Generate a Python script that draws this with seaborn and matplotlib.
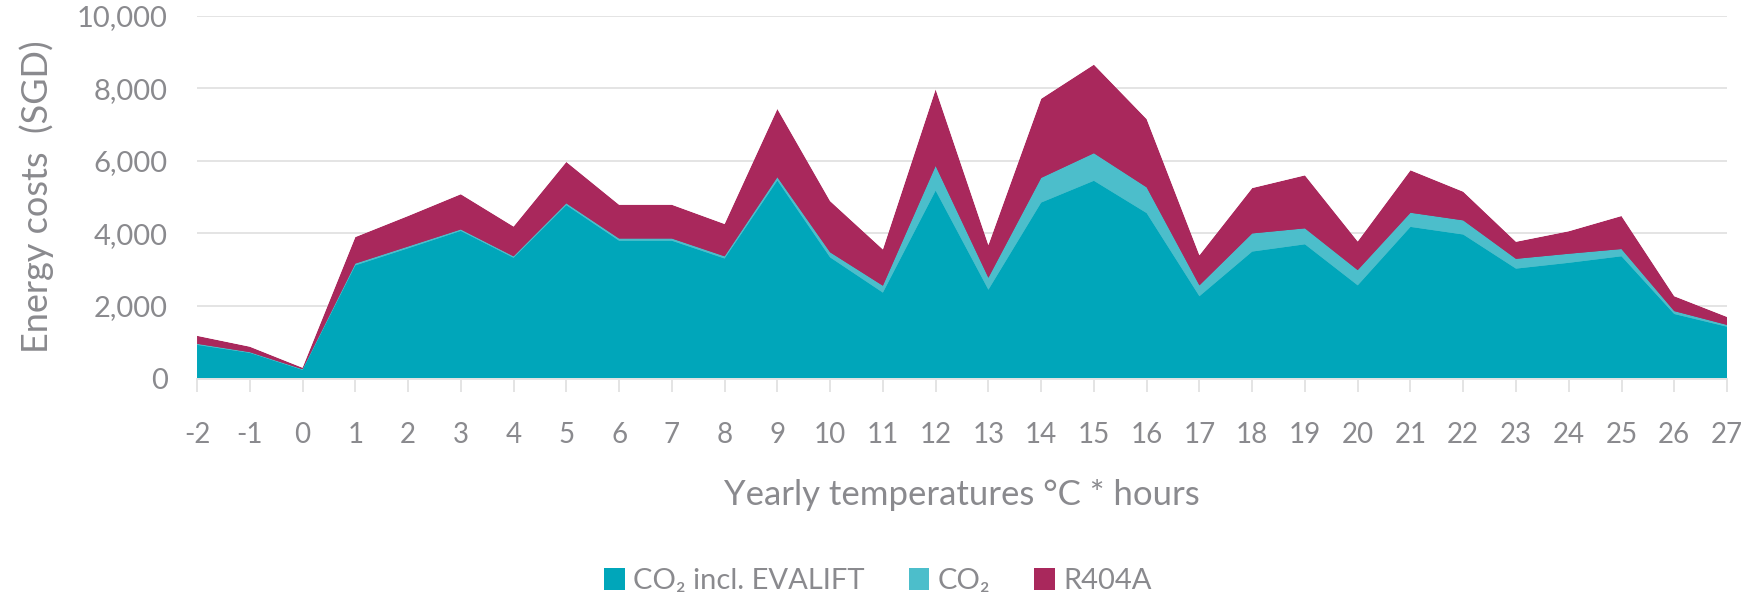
import numpy as np
import pandas as pd
import matplotlib
matplotlib.use("Agg")
import matplotlib.pyplot as plt
from matplotlib.patches import Patch
import seaborn as sns
import seaborn.objects as so

# Yearly temperature bins (°C)
temps = list(range(-2, 28))

# Energy costs (SGD) per temperature bin
r404a = [1180, 880, 300, 3900, 4480, 5080, 4190, 5970, 4790, 4790,
         4260, 7430, 4890, 3560, 7970, 3680, 7710, 8650, 7150, 3400,
         5250, 5600, 3780, 5740, 5150, 3770, 4060, 4480, 2270, 1700]
co2 = [960, 730, 260, 3170, 3640, 4110, 3370, 4830, 3860, 3860,
       3370, 5550, 3480, 2560, 5860, 2780, 5530, 6210, 5270, 2570,
       4000, 4140, 2990, 4570, 4360, 3300, 3440, 3570, 1860, 1480]
co2_evalift = [930, 710, 240, 3120, 3590, 4070, 3330, 4780, 3800, 3800,
               3310, 5460, 3340, 2370, 5180, 2450, 4850, 5450, 4560, 2270,
               3500, 3700, 2570, 4180, 3970, 3030, 3190, 3370, 1780, 1430]

series_names = ["CO₂ incl. EVALIFT", "CO₂", "R404A"]
y_ticks = [0, 2000, 4000, 6000, 8000, 10000]

palette = {
    "CO₂ incl. EVALIFT": "#00A6BA",
    "CO₂": "#4CBECB",
    "R404A": "#A9285C",
}
text_gray = "#8a8a8e"
grid_gray = "#e4e4e4"

df = pd.DataFrame({
    "temp": temps * 3,
    "cost": co2_evalift + co2 + r404a,
    "series": (["CO₂ incl. EVALIFT"] * len(temps)
               + ["CO₂"] * len(temps)
               + ["R404A"] * len(temps)),
})

sns.set_style("white")
plt.rcParams["font.family"] = ["Lato", "DejaVu Sans"]

fig = plt.figure(figsize=(17.56, 6), dpi=100)
ax = fig.add_axes([0.1122, 0.369, 0.8713, 0.605])

# Largest series drawn first so the smaller ones sit in front of it
draw_order = ["R404A", "CO₂", "CO₂ incl. EVALIFT"]
(
    so.Plot(df, x="temp", y="cost", color="series")
    .add(so.Area(alpha=1, edgewidth=0), legend=False)
    .scale(color=so.Nominal(palette, order=draw_order))
    .on(ax)
    .plot()
)

ax.set_facecolor("white")
ax.set_xlim(-2, 27)
ax.set_ylim(0, 10000)
ax.set_xticks(temps)
ax.set_xticklabels([str(t) for t in temps])
ax.set_yticks(y_ticks)
ax.set_yticklabels([f"{v:,}" for v in y_ticks])

ax.grid(False)
ax.yaxis.grid(True, color=grid_gray, linewidth=1.4)
ax.set_axisbelow(True)
for side in ["top", "right", "left"]:
    ax.spines[side].set_visible(False)
ax.spines["bottom"].set_color(grid_gray)
ax.spines["bottom"].set_linewidth(1.4)

ax.tick_params(axis="x", length=9, width=1.4, color=grid_gray, pad=22,
               labelsize=20, labelcolor=text_gray, bottom=True)
ax.tick_params(axis="y", length=0, pad=21, labelsize=21, labelcolor=text_gray)

ax.set_xlabel("Yearly temperatures °C * hours", fontsize=25, color=text_gray,
              va="center", ha="center")
ax.xaxis.set_label_coords(0.5, -0.321)
ax.set_ylabel("Energy costs  (SGD)", fontsize=26, color=text_gray,
              va="center", ha="center")
ax.yaxis.set_label_coords(-0.1046, 0.5)

handles = [Patch(facecolor=palette[n], edgecolor="none") for n in series_names]
fig.legend(handles, series_names, loc="center", bbox_to_anchor=(0.5, 1 - 581 / 600),
           ncol=3, frameon=False, fontsize=21, labelcolor=text_gray,
           handlelength=0.7, handleheight=0.8, handletextpad=0.3,
           columnspacing=1.5)

fig.savefig("out.png", dpi=100)
